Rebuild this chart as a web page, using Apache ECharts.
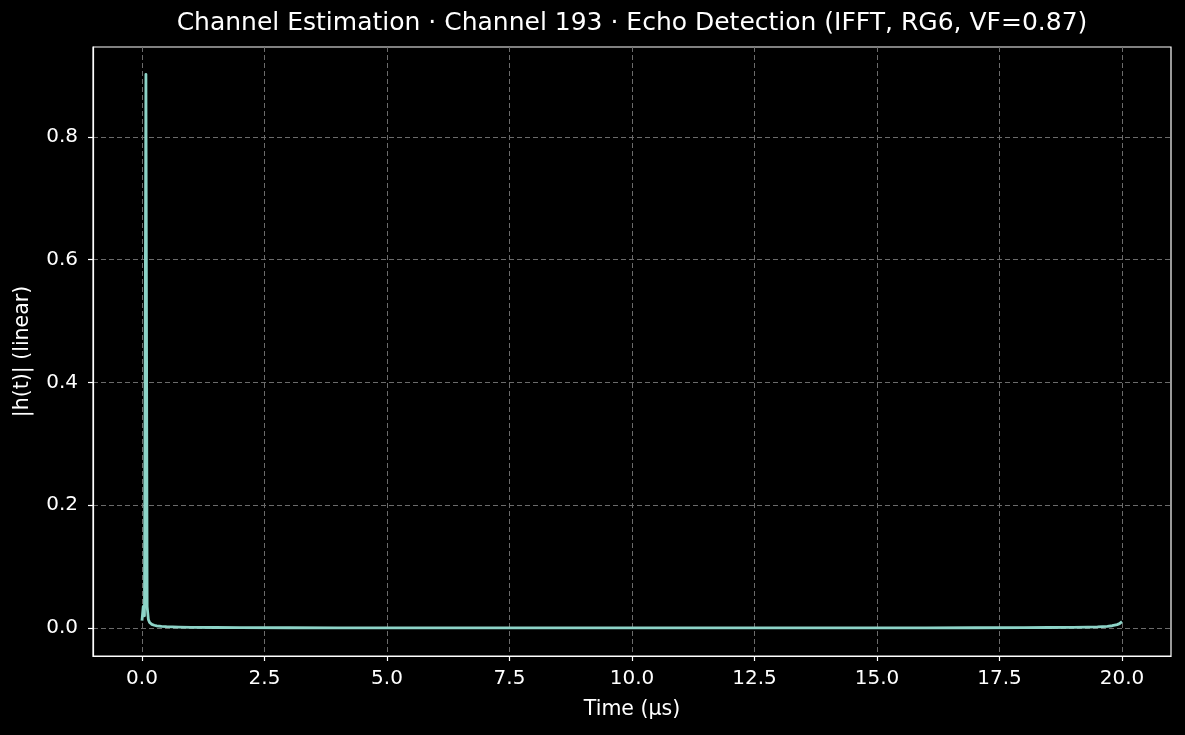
<!DOCTYPE html>
<html>
<head>
<meta charset="utf-8">
<script src="https://cdn.jsdelivr.net/npm/echarts@6/dist/echarts.min.js"></script>
<style>
html,body{margin:0;padding:0;background:#000;}
#c{width:1185px;height:735px;}
</style>
</head>
<body>
<div id="c"></div>
<script>
// Data
const timeUs = [0, 0.025, 0.05, 0.08, 0.105, 0.13, 0.155, 0.2, 0.25, 0.3, 0.4, 0.5, 0.75, 1, 1.5, 2, 3, 4, 6, 8, 10, 12, 14, 16, 17, 18, 18.5, 19, 19.3, 19.5, 19.7, 19.8, 19.9, 19.95, 19.975, 20];
const magnitude = [0.012, 0.035, 0.02, 0.902, 0.035, 0.014, 0.009, 0.006, 0.0045, 0.0035, 0.0027, 0.0022, 0.0015, 0.0011, 0.0008, 0.0006, 0.0004, 0.0003, 0.0002, 0.0002, 0.0002, 0.0002, 0.0002, 0.0003, 0.0004, 0.0006, 0.0008, 0.0011, 0.0015, 0.0019, 0.0028, 0.0037, 0.0055, 0.0072, 0.0085, 0.0105];
const xTicks = [0, 2.5, 5, 7.5, 10, 12.5, 15, 17.5, 20];
const yTicks = [0, 0.2, 0.4, 0.6, 0.8];
const titleText = 'Channel Estimation · Channel 193 · Echo Detection (IFFT, RG6, VF=0.87)';
const xName = 'Time (µs)';
const yName = '|h(t)| (linear)';

const FONT = 'DejaVu Sans';
const chart = echarts.init(document.getElementById('c'), null, {renderer: 'canvas'});
const points = timeUs.map((t, i) => [t, magnitude[i]]);
const gridLine = {show: true, lineStyle: {color: '#6b6b6b', width: 1, type: [5, 3]}};

chart.setOption({
  backgroundColor: '#000',
  animation: false,
  title: {
    text: titleText,
    left: 632, top: 11, textAlign: 'center',
    padding: 0,
    textStyle: {color: '#fff', fontFamily: FONT, fontSize: 25, fontWeight: 'normal'}
  },
  grid: {left: 93, right: 14, top: 47, bottom: 79, show: true, borderColor: '#fff', borderWidth: 1.2, backgroundColor: 'transparent'},
  xAxis: {
    type: 'value', min: -1, max: 21,
    name: xName, nameLocation: 'middle', nameGap: 43,
    nameTextStyle: {color: '#fff', fontFamily: FONT, fontSize: 20.5},
    axisLine: {show: true, onZero: false, lineStyle: {color: '#fff', width: 1.2}},
    axisTick: {show: true, length: 5, lineStyle: {color: '#fff', width: 1.2}, customValues: xTicks},
    axisLabel: {color: '#fff', fontFamily: FONT, fontSize: 20, margin: 13, customValues: xTicks,
      formatter: v => v.toFixed(1)},
    splitLine: gridLine
  },
  yAxis: {
    type: 'value', min: -0.0456, max: 0.9466,
    name: yName, nameLocation: 'middle', nameGap: 60, nameRotate: 90,
    nameTextStyle: {color: '#fff', fontFamily: FONT, fontSize: 20.5},
    axisLine: {show: true, onZero: false, lineStyle: {color: '#fff', width: 1.2}},
    axisTick: {show: true, length: 5, lineStyle: {color: '#fff', width: 1.2}, customValues: yTicks},
    axisLabel: {color: '#fff', fontFamily: FONT, fontSize: 20, margin: 15, customValues: yTicks,
      formatter: v => v.toFixed(1)},
    splitLine: gridLine
  },
  series: [{
    type: 'line',
    data: points,
    showSymbol: false,
    symbol: 'none',
    lineStyle: {color: '#8dd3c7', width: 2.8, join: 'round', cap: 'butt'},
    z: 5
  }]
});
</script>
</body>
</html>
